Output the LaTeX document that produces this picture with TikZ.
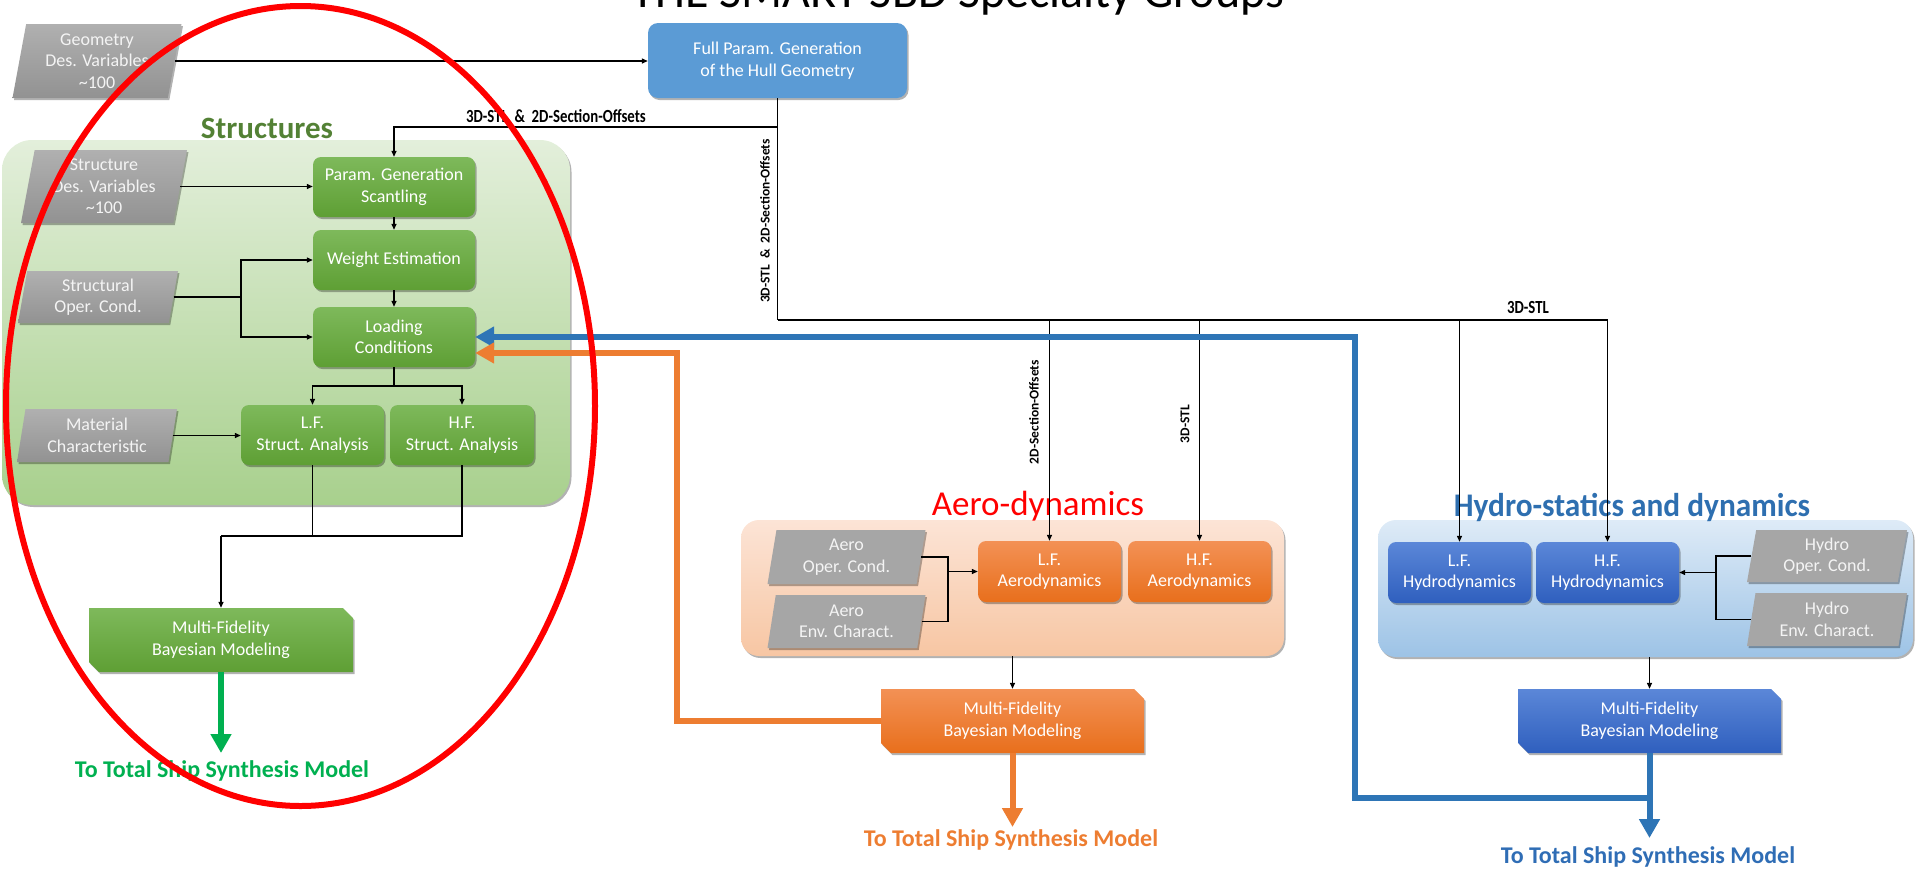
\documentclass[tikz,border=0pt]{standalone}
\usepackage{fontspec}
\setmainfont{Carlito}
\newfontfamily\condfont[FakeStretch=0.8]{Carlito}
\newfontfamily\semicond[FakeStretch=0.95]{Carlito}
\usetikzlibrary{shapes.geometric,shapes.misc,shadows,arrows.meta}
\definecolor{gTop}{HTML}{7EB95B}
\definecolor{gBot}{HTML}{5E9F34}
\definecolor{gcTop}{HTML}{E3EFDB}
\definecolor{gcBot}{HTML}{A8D08D}
\definecolor{oTop}{HTML}{F39155}
\definecolor{oBot}{HTML}{E86F1C}
\definecolor{ocTop}{HTML}{FCE4D6}
\definecolor{ocBot}{HTML}{F7C6A3}
\definecolor{bTop}{HTML}{5B87D8}
\definecolor{bBot}{HTML}{2F5FBE}
\definecolor{bcTop}{HTML}{DEEBF7}
\definecolor{bcBot}{HTML}{9DC3E6}
\definecolor{grayTop}{HTML}{B0B0B0}
\definecolor{grayBot}{HTML}{929292}
\definecolor{grayFlat}{HTML}{A6A6A6}
\definecolor{paraText}{HTML}{F4F4F4}
\definecolor{hullBlue}{HTML}{5B9BD5}
\definecolor{structGreen}{HTML}{538135}
\definecolor{hydroBlue}{HTML}{2E6FB0}
\definecolor{lineBlue}{HTML}{2E75B6}
\definecolor{lineOrange}{HTML}{ED7D31}
\definecolor{lineGreen}{HTML}{00B050}
\definecolor{totBlue}{HTML}{2F6DB5}
\begin{document}
\begin{tikzpicture}[x=1pt,y=-1pt,
  every node/.style={inner sep=0pt},
  btext/.style={font=\fontsize{18}{21.5}\selectfont, align=center, text=white},
  shad/.style={drop shadow={shadow xshift=1.5pt, shadow yshift=-2pt, opacity=0.3, fill=black}},
  gbox/.style={btext, shape=rectangle, rounded corners=8pt, top color=gTop, bottom color=gBot, shad, minimum height=60pt, minimum width=162pt},
  obox/.style={btext, shape=rectangle, rounded corners=8pt, top color=oTop, bottom color=oBot, shad, minimum height=61pt, minimum width=143pt},
  hbox/.style={btext, shape=rectangle, rounded corners=8pt, top color=bTop, bottom color=bBot, shad, minimum height=61pt, minimum width=143pt},
  para/.style={btext, text=paraText, shape=trapezium, trapezium left angle=76, trapezium right angle=104, trapezium stretches body, shad},
  pgrad/.style={top color=grayTop, bottom color=grayBot},
  pflat/.style={fill=grayFlat},
  mfbox/.style={btext, shape=chamfered rectangle, chamfered rectangle corners={north east,south west}, chamfered rectangle xsep=5pt, chamfered rectangle ysep=5pt, minimum width=263pt, minimum height=64pt, shad},
  cont/.style={shape=rectangle, shad},
  grplab/.style={font=\fontsize{33}{36}\selectfont},
  vlab/.style={font=\fontsize{13.5}{15}\selectfont\bfseries, rotate=90},
  hlab/.style={font=\fontsize{18.5}{20}\selectfont\condfont\bfseries},
  line/.style={line width=1.3pt},
  conn/.style={line width=1.3pt, -{Triangle[length=6pt,width=5pt]}},
  thick arrow/.style={line width=6pt, -{Triangle[length=19pt,width=20pt]}},
  tot/.style={font=\fontsize{24}{26}\selectfont\bfseries}
]
\useasboundingbox (0,0) rectangle (1915,868);

% title (cut at top edge, as in the reference)
\node[anchor=base, font=\fontsize{48}{50}\selectfont] (title) at (958,7) {THE SMART SBD Specialty Groups};

% containers
\node[cont, rounded corners=30pt, top color=gcTop, bottom color=gcBot, minimum width=568pt, minimum height=365pt] (sgrp) at (286,322.5) {};
\node[cont, rounded corners=18pt, top color=ocTop, bottom color=ocBot, minimum width=543pt, minimum height=136pt] (agrp) at (1012.5,588) {};
\node[cont, rounded corners=18pt, top color=bcTop, bottom color=bcBot, minimum width=535pt, minimum height=137pt] (hgrp) at (1645.5,588.5) {};

% group labels
\node[font=\fontsize{31}{34}\selectfont\bfseries, text=structGreen] (lstruct) at (267,128) {Structures};
\node[grplab, font=\fontsize{35}{38}\selectfont, text=red] (laero) at (1038,506) {Aero-dynamics};
\node[grplab, font=\fontsize{33}{36}\selectfont\semicond\bfseries, text=hydroBlue] (lhydro) at (1632,507) {Hydro-statics and dynamics};

% top
\node[para, pgrad, minimum width=169pt, minimum height=74pt] (geo) at (97,61) {Geometry\\Des. Variables\\\textasciitilde 100};
\node[btext, shape=rectangle, rounded corners=10pt, fill=hullBlue, shad, minimum width=259pt, minimum height=75pt] (hull) at (777.5,60.5) {Full Param. Generation\\of the Hull Geometry};

% structures
\node[para, pgrad, minimum width=166pt, minimum height=73pt] (sdv) at (104,186.5) {Structure\\Des. Variables\\\textasciitilde 100};
\node[gbox] (pgen) at (394,187) {Param. Generation\\Scantling};
\node[gbox] (wgt) at (394,260) {Weight Estimation};
\node[gbox] (load) at (394,337) {Loading\\Conditions};
\node[para, pgrad, minimum width=160pt, minimum height=52pt] (soc) at (98,297) {Structural\\Oper. Cond.};
\node[gbox, minimum width=143pt] (lfs) at (312.5,435) {L.F.\\Struct. Analysis};
\node[gbox, minimum width=144pt] (hfs) at (462,435) {H.F.\\Struct. Analysis};
\node[para, pgrad, minimum width=160pt, minimum height=53pt] (mat) at (97,435.5) {Material\\Characteristic};
\node[mfbox, top color=gTop, bottom color=gBot, minimum width=264pt] (mfs) at (221,640) {Multi-Fidelity\\Bayesian Modeling};

% aero
\node[para, pflat, minimum width=158pt, minimum height=54pt] (aoc) at (846.5,557) {Aero\\Oper. Cond.};
\node[para, pflat, minimum width=158pt, minimum height=53pt] (aec) at (846.5,621.5) {Aero\\Env. Charact.};
\node[obox] (lfa) at (1049.5,571.5) {L.F.\\Aerodynamics};
\node[obox] (hfa) at (1199.5,571.5) {H.F.\\Aerodynamics};
\node[mfbox, top color=oTop, bottom color=oBot] (mfa) at (1012.5,721) {Multi-Fidelity\\Bayesian Modeling};

% hydro
\node[hbox] (lfh) at (1459.5,572.5) {L.F.\\Hydrodynamics};
\node[hbox] (hfh) at (1607.5,572.5) {H.F.\\Hydrodynamics};
\node[para, pflat, minimum width=160pt, minimum height=52pt] (hoc) at (1827,556) {Hydro\\Oper. Cond.};
\node[para, pflat, minimum width=160pt, minimum height=53pt] (hec) at (1827,619.5) {Hydro\\Env. Charact.};
\node[mfbox, top color=bTop, bottom color=bBot] (mfh) at (1649.5,721) {Multi-Fidelity\\Bayesian Modeling};

% bottom texts
\node[tot, text=lineGreen] (totS) at (222,771) {To Total Ship Synthesis Model};
\node[tot, text=lineOrange] (totA) at (1011,840) {To Total Ship Synthesis Model};
\node[tot, text=totBlue] (totH) at (1648,857) {To Total Ship Synthesis Model};

% connector labels
\node[hlab] (l1) at (556,116) {3D-STL\ \ \&\ \ 2D-Section-Offsets};
\node[vlab] (l2) at (765,221) {3D-STL\ \ \&\ \ 2D-Section-Offsets};
\node[hlab] (l3) at (1528,307) {3D-STL};
\node[vlab] (l4) at (1034,412) {2D-Section-Offsets};
\node[vlab] (l5) at (1185,424) {3D-STL};

% geometry connectors
\draw[conn] (geo.right side) -- (geo.right side -| hull.west);
\coordinate (h1) at (777.5,127);
\coordinate (h2) at (777.5,320);
\draw[line] (hull.south) -- (h2);
\draw[conn] (h1) -| (pgen.north);
\draw[line, line width=2.2pt] (h2) -- (h2 -| hfa.north);
\draw[line] (h2 -| hfa.north) -- (h2 -| hfh.north);
\draw[conn] (h2 -| lfa.north) -- (lfa.north);
\draw[conn] (h2 -| hfa.north) -- (hfa.north);
\draw[conn] (h2 -| lfh.north) -- (lfh.north);
\draw[conn] (h2 -| hfh.north) -- (hfh.north);

% structures connectors
\draw[conn] (sdv.right side) -- (sdv.right side -| pgen.west);
\draw[conn] (pgen.south) -- (wgt.north);
\draw[conn] (wgt.south) -- (load.north);
\coordinate (sj) at (241,297);
\draw[line] (soc.right side) -- (sj);
\draw[conn] (sj) |- (wgt.west);
\draw[conn] (sj) |- (load.west);
\coordinate (lj) at (394,386);
\draw[line] (load.south) -- (lj);
\draw[conn] (lj) -| (lfs.north);
\draw[conn] (lj) -| (hfs.north);
\draw[conn] (mat.right side) -- (mat.right side -| lfs.west);
\coordinate (mj) at (221,536);
\draw[line] (lfs.south) -- (lfs.south |- mj);
\draw[line] (hfs.south) |- (mj);
\draw[conn] (mj) -- (mfs.north);

% aero connectors
\coordinate (aj) at (948,571.5);
\draw[line] (aoc.right side) -| (aj);
\draw[line] (aec.right side) -| (aj);
\draw[conn] (aj) -- (lfa.west);
\draw[conn] (agrp.south -| mfa.north) -- (mfa.north);

% hydro connectors
\coordinate (hj) at (1716,572.5);
\draw[line] (hoc.left side) -| (hj);
\draw[line] (hec.left side) -| (hj);
\draw[conn] (hj) -- (hfh.east);
\draw[conn] (hgrp.south -| mfh.north) -- (mfh.north);

% thick result arrows
\coordinate (gtip) at (221,753);
\coordinate (otip) at (1012.5,827);
\coordinate (btip) at (1649.5,838);
\coordinate (bj) at (1649.5,798);
\draw[thick arrow, lineGreen] (mfs.south) -- (gtip);
\draw[thick arrow, lineOrange] (mfa.south) -- (otip);
\draw[thick arrow, lineBlue] (mfh.south) -- (btip);
\draw[thick arrow, lineBlue] (bj) -| (1355,337) -- (load.east);
\draw[thick arrow, lineOrange] (mfa.west) -| (677,353) -- ([yshift=-16pt]load.east);

% red ellipse
\draw[red, line width=6pt] (300.5,406) ellipse [x radius=294.5, y radius=400];
\end{tikzpicture}
\end{document}
